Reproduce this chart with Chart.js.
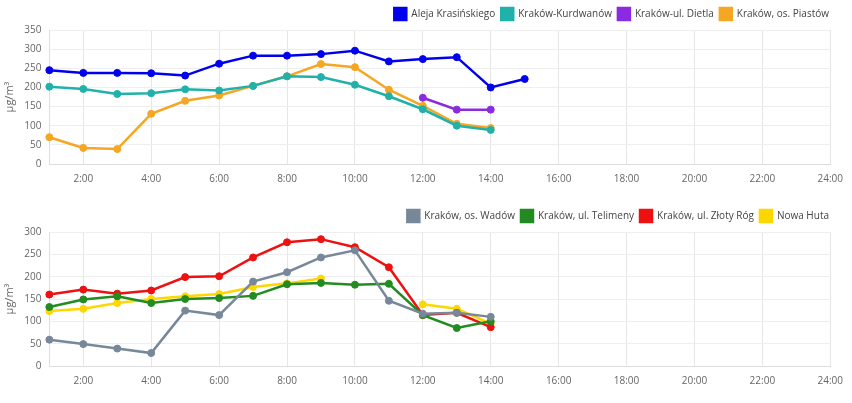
<!DOCTYPE html>
<html>
<head>
<meta charset="utf-8">
<script src="https://cdn.jsdelivr.net/npm/chart.js@4"></script>
<style>
  body { margin: 0; background: #fff; }
  .box { position: relative; width: 852px; height: 202px; }
</style>
</head>
<body>
<div class="box"><canvas id="wykres1"></canvas></div>
<div class="box"><canvas id="wykres2"></canvas></div>
<script>
const godziny = [];
for (let h = 1; h <= 24; h++) godziny.push(h + ":00");

// wykres 1
const krasinskiego = [245, 238, 238, 237, 231, 262, 283, 283, 287, 296, 268, 274, 279, 200, 222];
const kurdwanow = [202, 196, 183, 185, 195, 192, 204, 229, 227, 207, 177, 143, 100, 89];
const dietla = [null, null, null, null, null, null, null, null, null, null, null, 173, 142, 142];
const piastow = [70, 42, 39, 131, 165, 179, 204, 229, 261, 253, 194, 152, 105, 94];

// wykres 2
const wadow = [59, 49, 39, 29, 124, 114, 189, 210, 243, 259, 146, 117, 119, 110];
const telimeny = [132, 149, 156, 141, 150, 152, 157, 183, 186, 182, 184, 114, 85, 100];
const zlotyRog = [160, 171, 162, 169, 199, 201, 243, 277, 284, 266, 221, 114, 119, 87];
const nowaHuta = [123, 128, 141, 150, 156, 161, 177, 185, 196, null, null, 138, 128, 95];

Chart.defaults.font.family = "'Open Sans', sans-serif";
Chart.defaults.font.size = 10;
Chart.defaults.color = "#666";

function seria(label, data, kolor) {
    return {
        label: label,
        data: data,
        borderColor: kolor,
        backgroundColor: kolor,
        borderWidth: 2.5,
        pointRadius: 3.5,
        pointBorderWidth: 1,
        pointHoverRadius: 4,
        tension: 0,
        spanGaps: false
    };
}

function opcje(maxY) {
    return {
        responsive: true,
        maintainAspectRatio: false,
        animation: false,
        layout: { padding: { left: 3, right: 17, top: 2, bottom: 8 } },
        plugins: {
            legend: {
                position: "top",
                align: "end",
                labels: { boxWidth: 12, boxHeight: 12, padding: 6, font: { size: 10 }, color: "#444" }
            },
            tooltip: { enabled: false }
        },
        scales: {
            x: {
                grid: {
                    color: (c) => (c.index % 2 === 1 ? "#e6e6e6" : "rgba(0,0,0,0)"),
                    drawTicks: false
                },
                border: { color: "#ddd" },
                ticks: {
                    autoSkip: false,
                    maxRotation: 0,
                    padding: 9,
                    callback: function (v, i) { return i % 2 === 1 ? godziny[i] : ""; }
                }
            },
            y: {
                min: 0,
                max: maxY,
                ticks: { stepSize: 50, padding: 8 },
                grid: { color: "#eee", drawTicks: false },
                border: { color: "#ddd" },
                title: { display: true, text: "µg/m³", font: { size: 11 }, padding: { top: 0, bottom: 0 } }
            }
        }
    };
}

new Chart(document.getElementById("wykres1"), {
    type: "line",
    data: {
        labels: godziny,
        datasets: [
            seria("Aleja Krasińskiego", krasinskiego, "#0000ee"),
            seria("Kraków-Kurdwanów", kurdwanow, "#20b2aa"),
            seria("Kraków-ul. Dietla", dietla, "#8a2be2"),
            seria("Kraków, os. Piastów", piastow, "#f5a623")
        ]
    },
    options: opcje(350)
});

new Chart(document.getElementById("wykres2"), {
    type: "line",
    data: {
        labels: godziny,
        datasets: [
            seria("Kraków, os. Wadów", wadow, "#778899"),
            seria("Kraków, ul. Telimeny", telimeny, "#228b22"),
            seria("Kraków, ul. Złoty Róg", zlotyRog, "#ee1111"),
            seria("Nowa Huta", nowaHuta, "#ffd700")
        ]
    },
    options: opcje(300)
});
</script>
</body>
</html>
